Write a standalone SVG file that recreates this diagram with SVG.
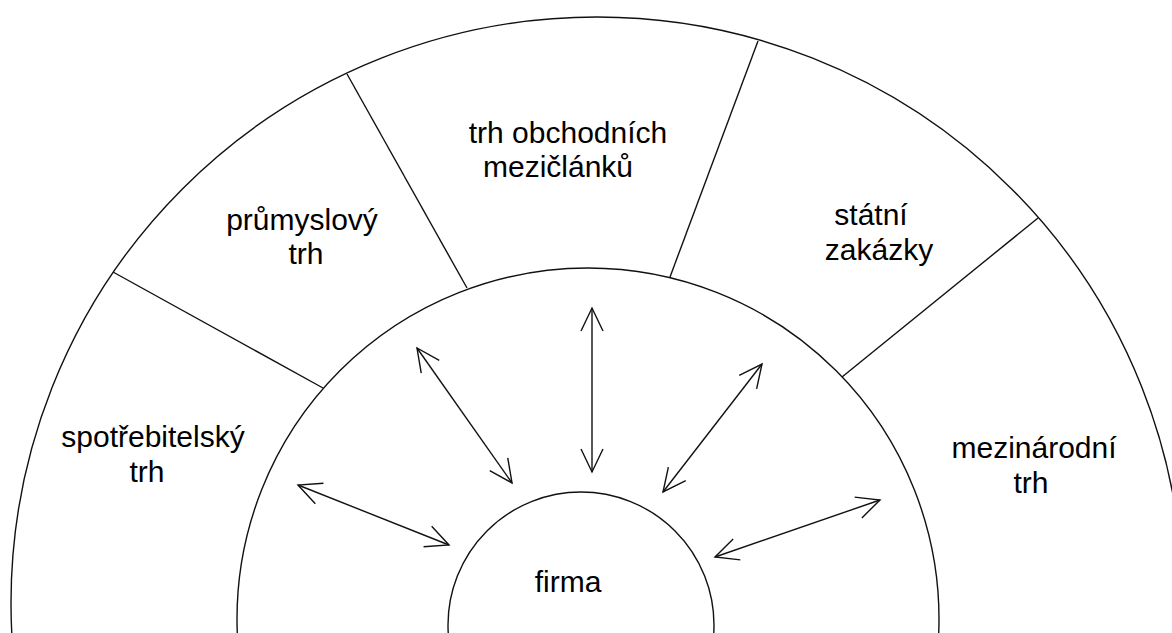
<svg xmlns="http://www.w3.org/2000/svg" width="1172" height="633" viewBox="0 0 1172 633">
<defs>
<style>
.ln{fill:none;stroke:#111;stroke-width:1.4}
.lbl{font-family:"Liberation Sans",Arial,sans-serif;font-size:30px;fill:#000;text-anchor:middle}
.ar{fill:none;stroke:#111;stroke-width:1.4;marker-start:url(#ah);marker-end:url(#ah)}
</style>
<marker id="ah" markerUnits="userSpaceOnUse" markerWidth="30" markerHeight="30" viewBox="-26 -14 30 28" refX="0" refY="0" orient="auto-start-reverse" overflow="visible">
<path d="M-23,-11 L0,0 L-23,11" fill="none" stroke="#111" stroke-width="1.4"/>
</marker>
</defs>
<rect width="1172" height="633" fill="#fff"/>
<g id="rings">
<circle class="ln" cx="597" cy="603" r="586"/>
<circle class="ln" cx="588" cy="619" r="351"/>
</g>
<g id="dividers">
<line class="ln" x1="113" y1="272" x2="323" y2="388"/>
<line class="ln" x1="347" y1="74" x2="467" y2="288"/>
<line class="ln" x1="758" y1="41" x2="670" y2="277"/>
<line class="ln" x1="1038" y1="218" x2="842" y2="377"/>
</g>
<g id="spotrebitelsky">
<text class="lbl" x="153" y="447">spotřebitelský</text>
<text class="lbl" x="147" y="482">trh</text>
</g>
<g id="prumyslovy">
<text class="lbl" x="302" y="230">průmyslový</text>
<text class="lbl" x="306" y="264">trh</text>
</g>
<g id="obchodni">
<text class="lbl" x="568" y="143">trh obchodních</text>
<text class="lbl" x="558" y="177">mezičlánků</text>
</g>
<g id="statni">
<text class="lbl" x="871" y="225">státní</text>
<text class="lbl" x="879" y="260">zakázky</text>
</g>
<g id="mezinarodni">
<text class="lbl" x="1034" y="458">mezinárodní</text>
<text class="lbl" x="1031" y="493">trh</text>
</g>
<g id="firma">
<circle class="ln" cx="581" cy="625" r="133"/>
<text class="lbl" x="568" y="592">firma</text>
</g>
<g id="connectors">
<line class="ar" x1="298" y1="485" x2="449" y2="545"/>
<line class="ar" x1="417" y1="348" x2="512" y2="483"/>
<line class="ar" x1="592" y1="308" x2="592" y2="472"/>
<line class="ar" x1="762" y1="364" x2="663" y2="492"/>
<line class="ar" x1="880" y1="500" x2="715" y2="557"/>
</g>
</svg>
